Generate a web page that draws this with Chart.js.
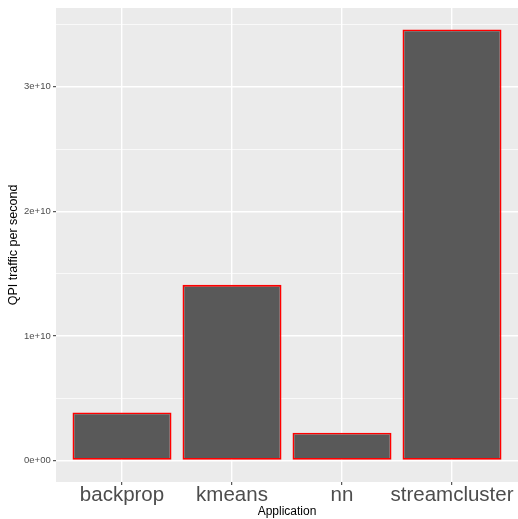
<!DOCTYPE html>
<html lang="en">

<head>
    <meta charset="UTF-8">
    <title>QPI traffic</title>
    <script src="https://cdn.jsdelivr.net/npm/chart.js@4.4.0/dist/chart.umd.min.js"></script>
    <style>
        body { margin: 0; background: #fff; }
    </style>
</head>

<body>
    <canvas id="myChart" width="518" height="519"></canvas>
</body>

<script>

    var applications = ['backprop', 'kmeans', 'nn', 'streamcluster'];
    var qpiTraffic = [0.385e10, 1.41e10, 0.222e10, 3.46e10];

    var yTicks = [0, 1e10, 2e10, 3e10];
    var yTickLabels = ['0e+00', '1e+10', '2e+10', '3e+10'];
    var yMinorTicks = [0.5e10, 1.5e10, 2.5e10, 3.5e10];

    var points = applications.map(function (a, i) {
        return { x: i, y: qpiTraffic[i] };
    });

    // ggplot style grey panel behind the grid
    var panelBg = {
        id: 'panelBg',
        beforeDraw: function (chart) {
            var a = chart.chartArea;
            var ctx = chart.ctx;
            ctx.save();
            ctx.fillStyle = '#EBEBEB';
            ctx.fillRect(a.left, a.top, a.right - a.left, a.bottom - a.top);
            ctx.restore();
        }
    };

    function isMinor(v) {
        return yMinorTicks.indexOf(v) !== -1;
    }

    var ctx = document.getElementById('myChart').getContext('2d');
    var chart = new Chart(ctx, {
        type: 'bar',
        data: {
            datasets: [{
                data: points,
                backgroundColor: '#595959',
                borderColor: '#FF0000',
                borderWidth: 1.8,
                borderSkipped: false,
                categoryPercentage: 1,
                barPercentage: 0.9
            }]
        },
        options: {
            responsive: false,
            devicePixelRatio: 1,
            animation: false,
            layout: { padding: { top: 7, right: 0, left: 0, bottom: 0 } },
            plugins: {
                legend: { display: false },
                tooltip: { enabled: false }
            },
            scales: {
                x: {
                    type: 'linear',
                    min: -0.6,
                    max: 3.6,
                    offset: false,
                    afterBuildTicks: function (scale) {
                        scale.ticks = applications.map(function (a, i) { return { value: i }; });
                    },
                    afterFit: function (scale) { scale.height = 37; },
                    border: { display: false },
                    grid: {
                        offset: false,
                        color: '#FFFFFF',
                        lineWidth: 1.4,
                        tickLength: 3,
                        tickColor: '#333333',
                        tickWidth: 1
                    },
                    ticks: {
                        autoSkip: false,
                        maxRotation: 0,
                        padding: -2,
                        color: '#4D4D4D',
                        font: { family: 'Liberation Sans, Arial, sans-serif', size: 20.5 },
                        callback: function (v) { return applications[v]; }
                    },
                    title: {
                        display: true,
                        text: 'Application',
                        color: '#000000',
                        padding: { top: 0, bottom: 0 },
                        font: { family: 'Liberation Sans, Arial, sans-serif', size: 12 }
                    }
                },
                y: {
                    min: -0.173e10,
                    max: 3.633e10,
                    afterBuildTicks: function (scale) {
                        var all = yTicks.concat(yMinorTicks).sort(function (a, b) { return a - b; });
                        scale.ticks = all.map(function (v) { return { value: v }; });
                    },
                    afterFit: function (scale) { scale.width = 56; },
                    border: { display: false },
                    grid: {
                        color: '#FFFFFF',
                        lineWidth: function (c) { return isMinor(c.tick && c.tick.value) ? 0.7 : 1.4; },
                        tickLength: 3,
                        tickColor: function (c) { return isMinor(c.tick && c.tick.value) ? 'rgba(0,0,0,0)' : '#333333'; },
                        tickWidth: 1
                    },
                    ticks: {
                        padding: 2.3,
                        color: '#4D4D4D',
                        font: { family: 'Liberation Sans, Arial, sans-serif', size: 9.5 },
                        callback: function (v) {
                            var i = yTicks.indexOf(v);
                            return i === -1 ? '' : yTickLabels[i];
                        }
                    },
                    title: {
                        display: true,
                        text: 'QPI traffic per second',
                        color: '#000000',
                        padding: { top: 6, bottom: 0 },
                        font: { family: 'Liberation Sans, Arial, sans-serif', size: 12.5 }
                    }
                }
            }
        },
        plugins: [panelBg]
    });

</script>

</html>
